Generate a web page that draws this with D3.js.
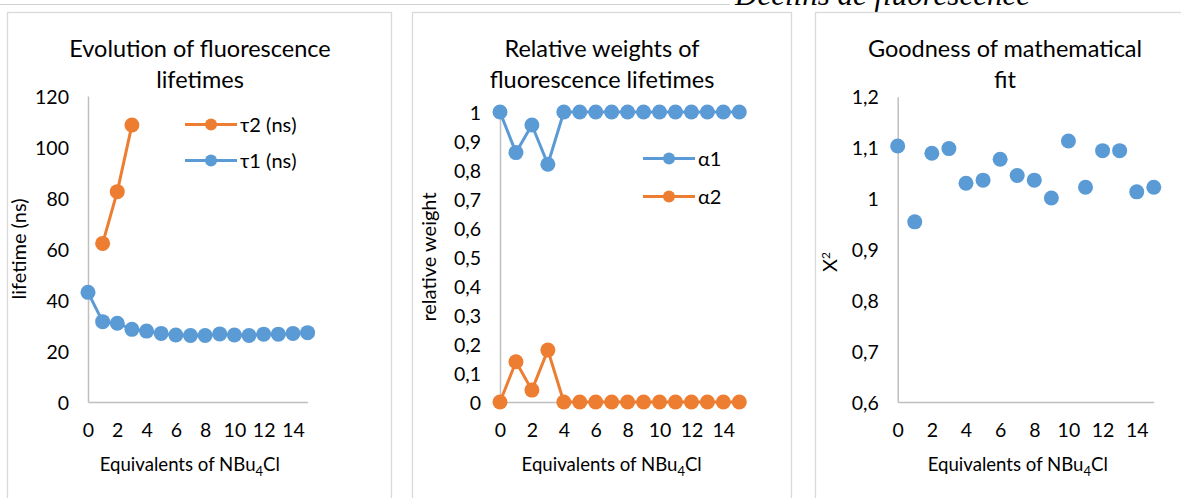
<!DOCTYPE html>
<html><head><meta charset="utf-8">
<script src="https://cdn.jsdelivr.net/npm/d3@7/dist/d3.min.js"></script>
<style>
html,body{margin:0;padding:0;background:#fff;}
svg text{font-family:Lato,"Open Sans",sans-serif;fill:#000;}
</style></head>
<body><svg id="c" width="1181" height="498"></svg>
<script>
// ---------- data ----------
const equivalents = [0,1,2,3,4,5,6,7,8,9,10,11,12,13,14,15];
const tau1 = [43,31.5,30.9,28.5,27.8,26.9,26.3,26.1,26.1,26.7,26.3,26.1,26.6,26.6,26.9,27.2];
const tau2Eq = [1,2,3];
const tau2 = [62.2,82.5,108.6];
const alpha1 = [1,0.86,0.955,0.82,1,1,1,1,1,1,1,1,1,1,1,1];
const alpha2 = [0,0.139,0.041,0.179,0,0,0,0,0,0,0,0,0,0,0,0];
const chi2 = [1.103,0.954,1.089,1.098,1.030,1.036,1.077,1.045,1.036,1.001,1.113,1.022,1.094,1.094,1.013,1.022];
const xTicks = [0,2,4,6,8,10,12,14];
const lifetimeTicks = [0,20,40,60,80,100,120];
const weightTicks = [0,0.1,0.2,0.3,0.4,0.5,0.6,0.7,0.8,0.9,1];
const chiTicks = [0.6,0.7,0.8,0.9,1.0,1.1,1.2];
const titles = [["Evolution of fluorescence","lifetimes"],["Relative weights of","fluorescence lifetimes"],["Goodness of mathematical","fit"]];
const yTitles = ["lifetime (ns)","relative weight","Χ"];
const legend1 = ["τ2 (ns)","τ1 (ns)"];
const legend2 = ["α1","α2"];
const headerText = "Déclins de fluorescence";

const BLUE = "#5B9BD5", ORANGE = "#ED7D31", AXIS = "#BFBFBF", BORDER = "#D9D9D9";
const svg = d3.select("#c");
const fmt = v => d3.format("~g")(+v.toFixed(2)).replace(".", ",");

// header remnants
svg.append("line").attr("x1",0).attr("x2",730).attr("y1",4.5).attr("y2",4.5).attr("stroke","#d0d0d0").attr("stroke-width",1);
svg.append("text").attr("x",735).attr("y",5).style("font-family","'Liberation Serif',serif")
  .attr("font-style","italic").attr("font-size",31).text(headerText);

const panels = [
  {box:[7.5,12.5,384,520], x0:88, x1:307.6, yTop:96, yBot:402, yDom:[0,120], yTicks:lifetimeTicks, tx:200, ytx:26},
  {box:[412.5,12.5,379,520], x0:500, x1:739.3, yTop:112, yBot:402, yDom:[0,1], yTicks:weightTicks, tx:602, ytx:436},
  {box:[815.5,12.5,400,520], x0:897.7, x1:1153.8, yTop:96.7, yBot:402, yDom:[0.6,1.2], yTicks:chiTicks, tx:1005, ytx:837}
];

panels.forEach((p,i)=>{
  const g = svg.append("g");
  g.append("rect").attr("x",p.box[0]).attr("y",p.box[1]).attr("width",p.box[2]).attr("height",p.box[3])
    .attr("fill","#fff").attr("stroke",BORDER).attr("stroke-width",1.3);
  p.xs = d3.scaleLinear().domain([0,15]).range([p.x0,p.x1]);
  p.ys = d3.scaleLinear().domain(p.yDom).range([p.yBot,p.yTop]);
  // title
  titles[i].forEach((t,k)=>g.append("text").attr("x",p.tx).attr("y",57+k*31).attr("text-anchor","middle").attr("font-size",23.5).text(t));
  // axes
  const ya = d3.axisLeft(p.ys).tickValues(p.yTicks).tickSize(0).tickPadding(19).tickFormat(fmt);
  const yg = g.append("g").attr("transform",`translate(${p.x0},0)`).call(ya);
  yg.select(".domain").attr("stroke",AXIS).attr("stroke-width",1.5);
  yg.selectAll("text").attr("font-size",19.5).attr("font-family",null).attr("dy","0.36em");
  const xa = d3.axisBottom(p.xs).tickValues(xTicks).tickSize(0).tickPadding(21).tickFormat(d3.format("d"));
  const xg = g.append("g").attr("transform",`translate(0,${p.yBot})`).call(xa);
  xg.select(".domain").attr("stroke",AXIS).attr("stroke-width",1.5);
  xg.selectAll("text").attr("font-size",19.5).attr("font-family",null);
  // x title
  const xt = g.append("text").attr("x",(p.x0+p.x1)/2-8).attr("y",471).attr("text-anchor","middle").attr("font-size",18.6);
  xt.append("tspan").text("Equivalents of NBu");
  xt.append("tspan").attr("dy",5).attr("font-size",13).text("4");
  xt.append("tspan").attr("dy",-5).text("Cl");
  // y title
  const yt = g.append("text").attr("transform",`translate(${p.ytx},${(p.yTop+p.yBot)/2}) rotate(-90)`).attr("text-anchor","middle").attr("font-size",20);
  yt.append("tspan").text(yTitles[i]);
  if(i===2){ yt.attr("transform",`translate(${p.ytx},262) rotate(-90)`); yt.append("tspan").attr("dy",-7).attr("font-size",12).text("2"); }
});

function series(p, xs, ys, color, withLine){
  const g = svg.append("g");
  const pts = xs.map((x,k)=>[p.xs(x), p.ys(ys[k])]);
  if(withLine) g.append("path").attr("d",d3.line()(pts)).attr("fill","none").attr("stroke",color).attr("stroke-width",3).attr("stroke-linejoin","round");
  g.selectAll("circle").data(pts).join("circle").attr("cx",d=>d[0]).attr("cy",d=>d[1]).attr("r",7.5).attr("fill",color);
}
function legendItem(x, y, color, label){
  const g = svg.append("g");
  g.append("line").attr("x1",x).attr("x2",x+52).attr("y1",y).attr("y2",y).attr("stroke",color).attr("stroke-width",3);
  g.append("circle").attr("cx",x+26).attr("cy",y).attr("r",6).attr("fill",color);
  g.append("text").attr("x",x+55).attr("y",y).attr("dy","0.36em").attr("font-size",20).text(label);
}

series(panels[0], equivalents, tau1, BLUE, true);
series(panels[0], tau2Eq, tau2, ORANGE, true);
legendItem(185,124.5,ORANGE,legend1[0]);
legendItem(185,160.5,BLUE,legend1[1]);

series(panels[1], equivalents, alpha2, ORANGE, true);
series(panels[1], equivalents, alpha1, BLUE, true);
legendItem(643,158.5,BLUE,legend2[0]);
legendItem(643,196.5,ORANGE,legend2[1]);

series(panels[2], equivalents, chi2, BLUE, false);
</script></body></html>
